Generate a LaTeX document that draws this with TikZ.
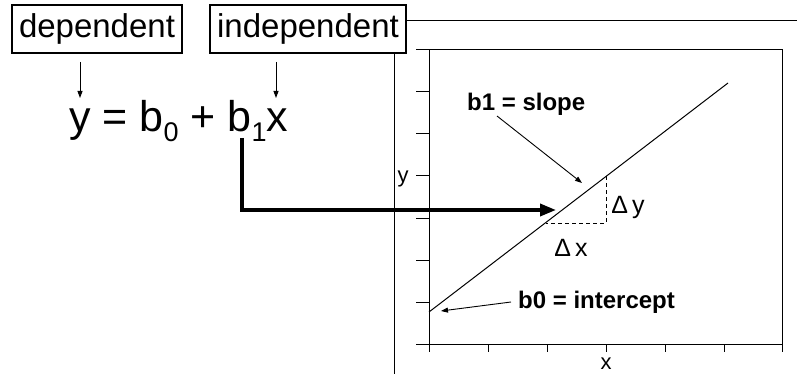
\documentclass[tikz,border=0pt]{standalone}
\usepackage{fontspec}
\setmainfont{Liberation Sans}
\usetikzlibrary{arrows.meta}
\begin{document}
\begin{tikzpicture}[x=1pt,y=-1pt,
  thinline/.style={line width=1pt},
  thinarrow/.style={line width=0.9pt,-{Triangle[length=7pt,width=5pt]}},
  bigarrow/.style={line width=3.5pt,-{Triangle[length=16pt,width=12pt]}},
  labelbox/.style={draw,line width=1.2pt,fill=white,inner sep=0pt,minimum height=48pt,font=\fontsize{33}{33}\selectfont},
  boldlab/.style={font=\bfseries\fontsize{24}{24}\selectfont,inner sep=0pt},
  axlab/.style={font=\fontsize{22}{22}\selectfont,inner sep=0pt},
  dlab/.style={font=\fontsize{25}{25}\selectfont,inner sep=0pt}]
\useasboundingbox (0,0) rectangle (797,374);
% outer frame (cropped)
\coordinate (fl) at (394,374);
\coordinate (fc) at (394,21);
\coordinate (fr) at (797,21);
\draw[thinline] (fl) -- (fc) -- (fr);
% label boxes
\node[labelbox,minimum width=170pt] (dep) at (97,29) {dependent};
\node[labelbox,minimum width=196pt] (indep) at (308,29) {independent};
% equation
\node[anchor=base west,inner sep=0pt,font=\fontsize{43}{43}\selectfont] (eq) at (69,132)
  {y = b\raisebox{-10pt}{\fontsize{27}{27}\selectfont 0} + b\raisebox{-10pt}{\fontsize{27}{27}\selectfont 1}x};
\coordinate (da1) at (80,62); \coordinate (da2) at (80,98);
\coordinate (ia1) at (276,62); \coordinate (ia2) at (276,98);
\draw[thinarrow] (da1) -- (da2);
\draw[thinarrow] (ia1) -- (ia2);
% plot box
\node[draw,thinline,minimum width=353pt,minimum height=294pt,inner sep=0pt] (plot) at (605.5,197) {};
\foreach \yy in {50,92,134,176,218,260,302,344} \draw[thinline] (416,\yy) -- (429,\yy);
\foreach \xx in {429,488,547,606,665,724,782} \draw[thinline] (\xx,344) -- (\xx,352);
\node[axlab] (ylab) at (403,179) {y};
\node[axlab] (xlab) at (606,364) {x};
% regression line
\coordinate (l0) at (429,312);
\coordinate (l1) at (728,83);
\draw[thinline] (l0) -- (l1);
\coordinate (pa) at (606,176.4);
\coordinate (pc) at (606,223);
\coordinate (pb) at (546,223);
\draw[thinline,dash pattern=on 4pt off 3pt] (pa) -- (pc) -- (pb);
\node[dlab] (dy) at (628,207) {Δ\,y};
\node[dlab] (dx) at (571,248) {Δ\,x};
% annotations
\node[boldlab,anchor=west] (slope) at (467,104) {b1 = slope};
\coordinate (sa) at (497,116); \coordinate (sb) at (582,183);
\draw[thinarrow] (sa) -- (sb);
\node[boldlab,anchor=west] (icpt) at (518,302) {b0 = intercept};
\coordinate (ca) at (511,302); \coordinate (cb) at (441,311);
\draw[thinarrow] (ca) -- (cb);
% thick arrow
\coordinate (ta) at (242,138);
\coordinate (tb) at (242,210);
\coordinate (tc) at (556,210);
\draw[bigarrow] (ta) -- (tb) -- (tc);
\end{tikzpicture}
\end{document}
